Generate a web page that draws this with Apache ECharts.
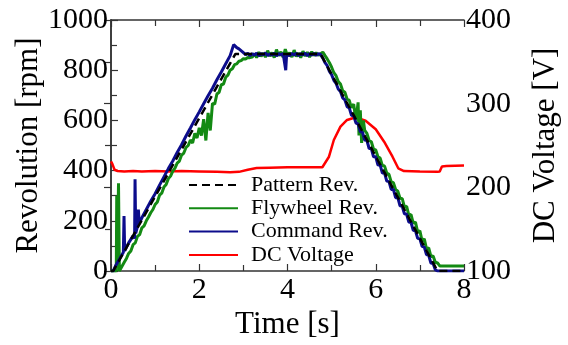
<!DOCTYPE html>
<html>
  <head>
    <meta charset="utf-8" />
    <title>Revolution / DC Voltage</title>
    <script src="https://cdn.jsdelivr.net/npm/echarts@6/dist/echarts.min.js"></script>
  </head>
  <body style="margin:0;background:#fff;">
    <div id="main" style="width: 568px;height:345px;"></div>
    <script type="text/javascript">
      // values: [time s, value]
      var patternRev = [[0, 0], [0.05, 0], [2.82, 865], [4.75, 865], [7.4, 0], [8, 0]];

      var flywheelRev = [
        [0, 0], [0.12, 0], [0.13, 300], [0.145, 15], [0.17, 350], [0.19, 0], [0.22, 0],
        [0.3, 35], [0.35, 50], [0.4, 70], [0.45, 80], [0.5, 105], [0.55, 112], [0.6, 138],
        [0.65, 145], [0.7, 172], [0.75, 180], [0.8, 200], [0.85, 215], [0.9, 232], [0.95, 245],
        [1.0, 265], [1.05, 275], [1.1, 302], [1.15, 310], [1.2, 335], [1.25, 345], [1.3, 368],
        [1.35, 378], [1.4, 398], [1.45, 410], [1.5, 430], [1.55, 438], [1.6, 462], [1.65, 470],
        [1.7, 492], [1.75, 500], [1.8, 522], [1.85, 510], [1.9, 548], [1.95, 530], [2.0, 570],
        [2.05, 540], [2.1, 605], [2.15, 520], [2.2, 630], [2.25, 560], [2.3, 668], [2.35, 665],
        [2.4, 705], [2.45, 712], [2.5, 742], [2.55, 745], [2.6, 772], [2.65, 780], [2.7, 800],
        [2.75, 806], [2.8, 822], [2.85, 825], [2.9, 836], [2.95, 838], [3.0, 846], [3.05, 845],
        [3.1, 851], [3.15, 850], [3.2, 852], [3.25, 866], [3.3, 850], [3.35, 872], [3.4, 855],
        [3.45, 868], [3.5, 852], [3.55, 878], [3.6, 856], [3.65, 870], [3.7, 850], [3.75, 882],
        [3.8, 858], [3.85, 873], [3.9, 852], [3.95, 884], [4.0, 857], [4.05, 870], [4.1, 852],
        [4.15, 880], [4.2, 855], [4.25, 868], [4.3, 850], [4.35, 876], [4.4, 856], [4.45, 872],
        [4.5, 852], [4.55, 874], [4.6, 858], [4.65, 870], [4.7, 860], [4.75, 866],
        [4.8, 872], [4.85, 858], [4.9, 845], [4.95, 830], [5.0, 812], [5.05, 790], [5.1, 778],
        [5.15, 755], [5.2, 745], [5.25, 718], [5.3, 712], [5.35, 685], [5.4, 680], [5.45, 650],
        [5.5, 665], [5.55, 600], [5.6, 672], [5.62, 540], [5.65, 640], [5.68, 510], [5.72, 600],
        [5.75, 560], [5.8, 548], [5.85, 520], [5.9, 515], [5.95, 485], [6.0, 482], [6.05, 455],
        [6.1, 450], [6.15, 420], [6.2, 418], [6.25, 390], [6.3, 385], [6.35, 355], [6.4, 352],
        [6.45, 325], [6.5, 318], [6.55, 290], [6.6, 288], [6.65, 255], [6.7, 258], [6.75, 222],
        [6.8, 225], [6.85, 190], [6.9, 195], [6.95, 155], [7.0, 160], [7.05, 120], [7.1, 128],
        [7.15, 88], [7.2, 92], [7.25, 58], [7.3, 60], [7.35, 35], [7.4, 32], [7.45, 20], [8, 20]
      ];

      var commandRev = [
        [0, 0], [0.05, 0], [0.1, 20], [0.2, 50], [0.28, 75], [0.295, 219], [0.31, 80],
        [0.4, 112], [0.5, 140], [0.535, 130], [0.545, 365], [0.56, 150], [0.6, 178],
        [0.62, 245], [0.64, 190], [0.7, 212], [0.8, 245], [0.9, 278], [1.0, 308], [1.1, 342],
        [1.2, 375], [1.3, 408], [1.4, 438], [1.5, 472], [1.6, 503], [1.7, 538], [1.8, 570],
        [1.9, 603], [2.0, 634], [2.1, 666], [2.2, 698], [2.3, 728], [2.4, 762], [2.5, 793],
        [2.6, 826], [2.7, 858], [2.78, 902], [2.85, 890], [2.9, 885], [3.0, 870], [3.05, 862],
        [3.1, 868], [3.15, 858], [3.2, 866], [3.25, 860], [3.3, 868], [3.35, 857], [3.4, 866],
        [3.45, 861], [3.5, 869], [3.55, 858], [3.6, 865], [3.65, 860], [3.7, 868], [3.75, 857],
        [3.8, 866], [3.85, 861], [3.9, 867], [3.94, 862], [3.96, 800], [3.98, 862], [4.0, 866],
        [4.05, 858], [4.1, 867], [4.15, 860], [4.2, 868], [4.25, 858], [4.3, 866], [4.35, 861],
        [4.4, 868], [4.45, 858], [4.5, 866], [4.55, 860], [4.6, 867], [4.65, 859], [4.7, 866],
        [4.75, 862], [4.8, 848], [4.85, 830], [4.9, 818], [4.95, 795], [5.0, 782], [5.05, 760],
        [5.1, 748], [5.15, 725], [5.2, 715], [5.25, 690], [5.3, 682], [5.35, 655], [5.4, 650],
        [5.45, 620], [5.5, 618], [5.55, 590], [5.6, 585], [5.65, 555], [5.7, 552], [5.75, 522],
        [5.8, 520], [5.85, 488], [5.9, 488], [5.95, 455], [6.0, 455], [6.05, 422], [6.1, 422],
        [6.15, 390], [6.2, 390], [6.25, 358], [6.3, 356], [6.35, 325], [6.4, 325], [6.45, 292],
        [6.5, 292], [6.55, 260], [6.6, 258], [6.65, 228], [6.7, 226], [6.75, 195], [6.8, 193],
        [6.85, 162], [6.9, 160], [6.95, 130], [7.0, 128], [7.05, 98], [7.1, 95], [7.15, 65],
        [7.2, 62], [7.25, 32], [7.3, 30], [7.35, 5], [7.4, 0], [8, 0]
      ];

      var dcVoltage = [
        [0, 231], [0.03, 228], [0.08, 221], [0.15, 219.5], [0.3, 219], [0.5, 219.5], [0.7, 219],
        [1.0, 219.5], [1.3, 219], [1.6, 219.5], [2.0, 219], [2.4, 218.5], [2.7, 218], [2.9, 218.5],
        [3.1, 221], [3.3, 223], [3.6, 223.5], [4.0, 224], [4.4, 224], [4.79, 224], [4.94, 236.6],
        [5.05, 256.6], [5.2, 272.5], [5.35, 280.5], [5.55, 283.7], [5.77, 279.6], [6.0, 269.4],
        [6.19, 254.5], [6.38, 236.6], [6.51, 222.8], [6.64, 219.5], [7.0, 219], [7.4, 218.5],
        [7.45, 219], [7.5, 225], [7.6, 225.5], [8, 226]
      ];

      var legendNames = ["Pattern Rev.", "Flywheel Rev.", "Command Rev.", "DC Voltage"];

      var font = "Liberation Serif";
      var tickOpt = { inside: true, length: 7, lineStyle: { color: "#333", width: 1.2 } };
      var minorOpt = { show: true, splitNumber: 2, length: 6, lineStyle: { color: "#333", width: 1.2 } };
      var lineOpt = { lineStyle: { color: "#333", width: 1.5 } };
      var plain = function (v) { return String(v); };

      var myChart = echarts.init(document.getElementById("main"));

      var option = {
        backgroundColor: "#fff",
        animation: false,
        grid: { left: 111, right: 104, top: 20, bottom: 74, outerBoundsMode: "none", containLabel: false },
        legend: {
          data: legendNames,
          orient: "vertical",
          left: 183,
          top: 169,
          itemWidth: 49,
          itemHeight: 14,
          itemGap: 1.3,
          itemStyle: { opacity: 0 },
          textStyle: { fontFamily: font, fontSize: 22, color: "#000", lineHeight: 22, padding: [0, 0, 0, 8] }
        },
        xAxis: [
          {
            type: "value",
            min: 0,
            max: 8,
            interval: 2,
            name: "Time [s]",
            nameLocation: "middle",
            nameGap: 38,
            nameMoveOverlap: false,
            nameTextStyle: { fontFamily: font, fontSize: 31, color: "#000" },
            axisLine: lineOpt,
            axisTick: tickOpt,
            minorTick: minorOpt,
            splitLine: { show: false },
            axisLabel: { fontFamily: font, fontSize: 30, color: "#000", margin: 4, formatter: plain }
          },
          {
            type: "value",
            position: "top",
            min: 0,
            max: 8,
            interval: 2,
            axisLine: lineOpt,
            axisTick: tickOpt,
            minorTick: minorOpt,
            splitLine: { show: false },
            axisLabel: { show: false }
          }
        ],
        yAxis: [
          {
            type: "value",
            min: 0,
            max: 1000,
            interval: 200,
            name: "Revolution [rpm]",
            nameLocation: "middle",
            nameRotate: 90,
            nameGap: 67,
            nameMoveOverlap: false,
            nameTextStyle: { fontFamily: font, fontSize: 31, color: "#000" },
            axisLine: lineOpt,
            axisTick: tickOpt,
            minorTick: minorOpt,
            splitLine: { show: false },
            axisLabel: { fontFamily: font, fontSize: 30, color: "#000", margin: 3, formatter: plain }
          },
          {
            type: "value",
            position: "right",
            min: 100,
            max: 400,
            interval: 100,
            name: "DC Voltage [V]",
            nameLocation: "middle",
            nameRotate: 90,
            nameGap: 66,
            nameMoveOverlap: false,
            nameTextStyle: { fontFamily: font, fontSize: 31, color: "#000" },
            axisLine: lineOpt,
            axisTick: tickOpt,
            minorTick: minorOpt,
            splitLine: { show: false },
            axisLabel: { fontFamily: font, fontSize: 30, color: "#000", margin: 2, formatter: plain }
          }
        ],
        series: [
          {
            name: "DC Voltage",
            type: "line",
            yAxisIndex: 1,
            showSymbol: false,
            symbol: "none",
            lineStyle: { color: "#ff0000", width: 2.5 },
            itemStyle: { color: "#ff0000" },
            data: dcVoltage
          },
          {
            name: "Flywheel Rev.",
            type: "line",
            showSymbol: false,
            symbol: "none",
            lineStyle: { color: "#138a13", width: 3 },
            itemStyle: { color: "#138a13" },
            data: flywheelRev
          },
          {
            name: "Command Rev.",
            type: "line",
            showSymbol: false,
            symbol: "none",
            lineStyle: { color: "#0c0c8c", width: 3 },
            itemStyle: { color: "#0c0c8c" },
            data: commandRev
          },
          {
            name: "Pattern Rev.",
            type: "line",
            showSymbol: false,
            symbol: "none",
            lineStyle: { color: "#000", width: 2.5, type: [8, 5] },
            itemStyle: { color: "#000" },
            data: patternRev
          }
        ]
      };

      myChart.setOption(option);
    </script>
  </body>
</html>
